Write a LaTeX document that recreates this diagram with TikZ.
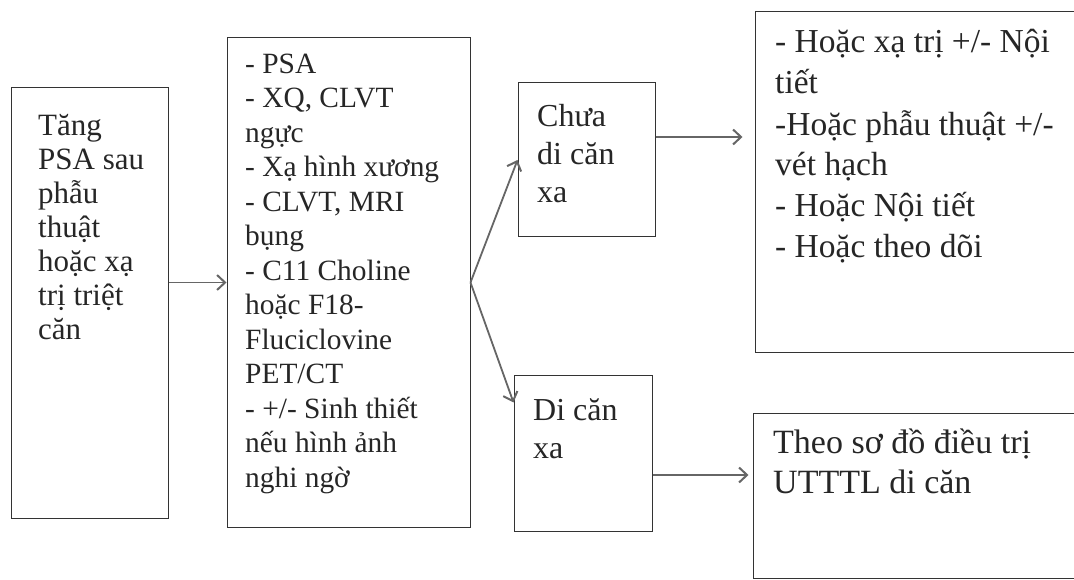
\documentclass[tikz,border=0pt]{standalone}
\usepackage{fontspec}
\setmainfont{Liberation Serif}
\usetikzlibrary{arrows.meta}

\begin{document}
\begin{tikzpicture}[x=1pt,y=-1pt,
  box/.style={draw=black!80, line width=1pt, inner sep=0pt},
  txt/.style={anchor=base west, align=left, inner sep=0pt, text=black!85},
  conn/.style={draw=black!60, line width=1.8pt, -{Straight Barb[length=8pt,width=15pt,line width=2pt]}}]
\useasboundingbox (0,0) rectangle (1074,580);

\node[box, minimum width=157pt, minimum height=430pt] (tang) at (89.5,303) {};
\node[box, minimum width=243pt, minimum height=489pt] (chandoan) at (348.5,282.5) {};
\node[box, minimum width=137pt, minimum height=154pt] (chuadican) at (586.5,160) {};
\node[box, minimum width=138pt, minimum height=156pt] (dican) at (583,453) {};
\node[box, minimum width=345pt, minimum height=340pt] (dieutri) at (927.5,182) {};
\node[box, minimum width=347pt, minimum height=165pt] (sodo) at (926.5,495.5) {};

\node[txt, font=\fontsize{31}{34}\selectfont] (tangtxt) at (38,339)
  {Tăng\\PSA sau\\phẫu\\thuật\\hoặc xạ\\trị triệt\\căn};
\node[txt, font=\fontsize{29.4}{34.5}\selectfont] (chandoantxt) at (245,487)
  {- PSA\\- XQ, CLVT\\ngực\\- Xạ hình xương\\- CLVT, MRI\\bụng\\- C11 Choline\\hoặc F18-\\Fluciclovine\\PET/CT\\- +/- Sinh thiết\\nếu hình ảnh\\nghi ngờ};
\node[txt, font=\fontsize{32}{38}\selectfont] (chuadicantxt) at (537,203)
  {Chưa\\di căn\\xa};
\node[txt, font=\fontsize{32}{38}\selectfont] (dicantxt) at (533,458)
  {Di căn\\xa};
\node[txt, font=\fontsize{33.5}{41}\selectfont] (dieutritxt) at (775,258)
  {- Hoặc xạ trị +/- Nội\\tiết\\-Hoặc phẫu thuật +/-\\vét hạch\\- Hoặc Nội tiết\\- Hoặc theo dõi};
\node[txt, font=\fontsize{34}{40}\selectfont] (sodotxt) at (773,493)
  {Theo sơ đồ điều trị\\UTTTL di căn};

\draw[conn] (tang.east |- chandoan.east) -- (chandoan.west);
\draw[conn] (chandoan.east) -- (chuadican.west);
\draw[conn] (chandoan.east) -- ([yshift=-28pt]dican.north west);
\draw[conn, shorten >=12pt] ([yshift=23pt]chuadican.east) -- ([yshift=23pt]chuadican.east -| dieutri.west);
\draw[conn, shorten >=4pt] ([yshift=-22pt]dican.east) -- ([yshift=-22pt]dican.east -| sodo.west);

\end{tikzpicture}
\end{document}
